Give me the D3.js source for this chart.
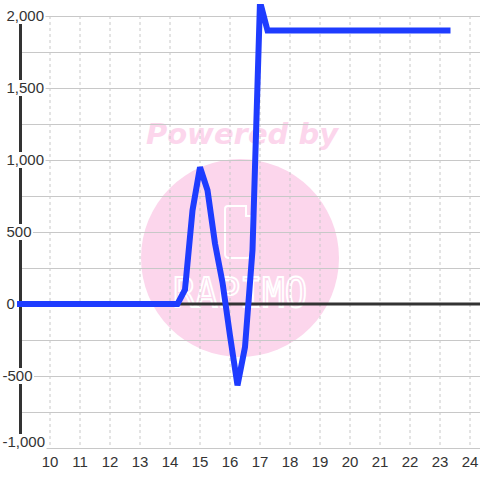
<!DOCTYPE html>
<html>
<head>
<meta charset="utf-8">
<script src="https://cdn.jsdelivr.net/npm/d3@7"></script>
<style>
html,body{margin:0;padding:0;background:#fff;}
svg{display:block;font-family:"Liberation Sans",Arial,sans-serif;}
</style>
</head>
<body>
<svg id="chart" width="480" height="480"></svg>
<script>
// ---- data ----
const xValues = [9, 14.25, 14.5, 14.75, 15, 15.25, 15.5, 15.75, 16, 16.25, 16.5, 16.75, 17, 17.25, 23.25];
const yValues = [0, 0, 100, 650, 950, 790, 420, 150, -220, -565, -300, 375, 2100, 1900, 1900];
const xTicks = [10, 11, 12, 13, 14, 15, 16, 17, 18, 19, 20, 21, 22, 23, 24];
const yTicks = [-1000, -500, 0, 500, 1000, 1500, 2000];
const yGrid = [-1000, -750, -500, -250, 0, 250, 500, 750, 1000, 1250, 1500, 1750, 2000];

const svg = d3.select("#chart");
const W = 480, H = 480;
const x = d3.scaleLinear().domain([9, 24.3333]).range([20, 480]);
const y = d3.scaleLinear().domain([-1000, 2000]).range([448, 16]);

// watermark
const wm = svg.append("g");
wm.append("circle").attr("cx", 240).attr("cy", 258).attr("r", 99).attr("fill", "#fcd6ec");
wm.append("text").attr("x", 242).attr("y", 144).attr("text-anchor", "middle")
  .attr("font-size", 29).attr("font-weight", "bold").attr("font-style", "italic")
  .attr("font-family", "'DejaVu Sans',sans-serif")
  .attr("fill", "#fcd6ec").text("Powered by");
wm.append("path")
  .attr("d", "M228,206 H246 V216 H251 V254 Q251,258 247,258 H229 Q225,258 225,254 V209 Q225,206 228,206 Z")
  .attr("fill", "none").attr("stroke", "#fff").attr("stroke-width", 2);
wm.append("text").attr("x", 240).attr("y", 307).attr("text-anchor", "middle")
  .attr("font-size", 40).attr("font-family", "'DejaVu Sans Mono',monospace")
  .attr("textLength", 134).attr("lengthAdjust", "spacingAndGlyphs")
  .attr("fill", "none").attr("stroke", "#fff").attr("stroke-width", 2).text("RAPIMO");

// vertical dashed grid
svg.append("g").selectAll("line").data(xTicks).join("line")
  .attr("x1", d => x(d)).attr("x2", d => x(d))
  .attr("y1", y(2000)).attr("y2", y(-1000))
  .attr("stroke", "#c8c8c8").attr("stroke-width", 1).attr("stroke-dasharray", "3,3");

// horizontal grid
svg.append("g").selectAll("line").data(yGrid).join("line")
  .attr("x1", 20).attr("x2", W)
  .attr("y1", d => y(d) + 0.5).attr("y2", d => y(d) + 0.5)
  .attr("stroke", "#c8c8c8").attr("stroke-width", 1);

// y axis line
svg.append("line").attr("x1", 20.5).attr("x2", 20.5).attr("y1", y(2000)).attr("y2", y(-1000))
  .attr("stroke", "#333").attr("stroke-width", 3);

// zero line
svg.append("line").attr("x1", 20).attr("x2", W).attr("y1", y(0)).attr("y2", y(0))
  .attr("stroke", "#333").attr("stroke-width", 3);

// y labels with white background
const fmt = d3.format(",");
const yl = svg.append("g");
yTicks.forEach(t => {
  const g = yl.append("g");
  const cy = t === -1000 ? y(t) - 6 : y(t);
  const txt = g.append("text")
    .attr("x", t < 0 ? 2.5 : 6.5).attr("y", cy).attr("dy", "0.35em")
    .attr("font-size", 15).attr("fill", "#333")
    .text(fmt(t).replace("−", "-"));
  const bb = txt.node().getBBox();
  g.insert("rect", "text").attr("x", 0).attr("y", cy - 8)
    .attr("width", bb.x + bb.width + 1.5).attr("height", 16).attr("fill", "#fff");
});

// x labels
svg.append("g").selectAll("text").data(xTicks).join("text")
  .attr("x", d => x(d)).attr("y", 467).attr("text-anchor", "middle")
  .attr("font-size", 15).attr("fill", "#333").text(d => d);

// clip
svg.append("clipPath").attr("id", "clip").append("rect")
  .attr("x", 0).attr("y", 4).attr("width", W).attr("height", H);

// series line
const data = xValues.map((v, i) => [v, yValues[i]]);
svg.append("path").datum(data)
  .attr("clip-path", "url(#clip)")
  .attr("d", d3.line().x(d => x(d[0])).y(d => y(d[1])))
  .attr("fill", "none").attr("stroke", "#1e3cff").attr("stroke-width", 6)
  .attr("stroke-linejoin", "miter").attr("stroke-linecap", "square");
</script>
</body>
</html>
